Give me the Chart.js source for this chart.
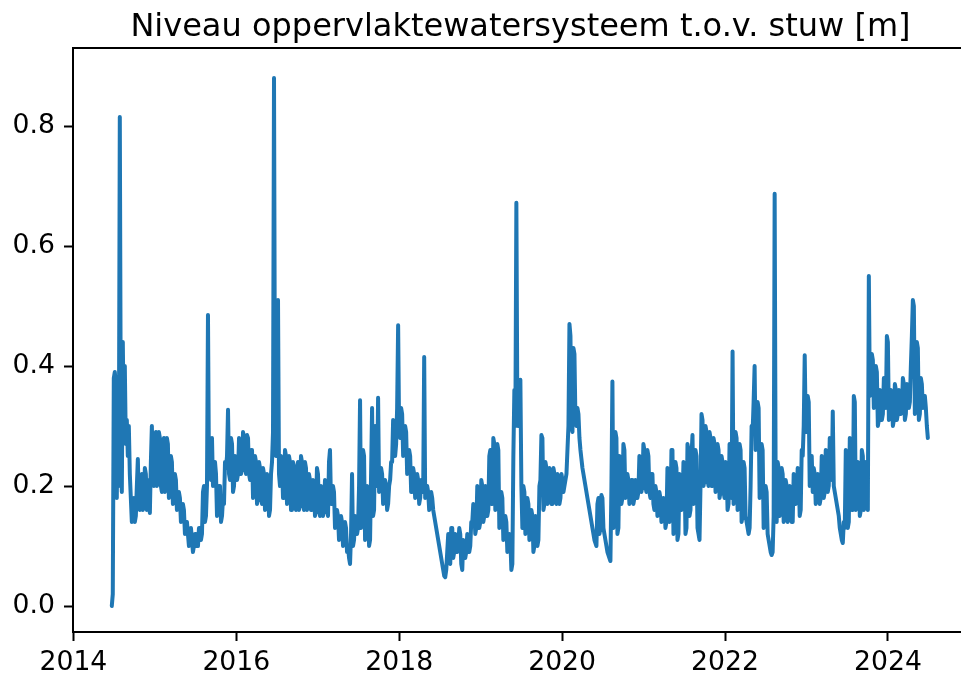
<!DOCTYPE html>
<html>
<head>
<meta charset="utf-8">
<script src="https://cdn.jsdelivr.net/npm/chart.js@4.4.1/dist/chart.umd.min.js"></script>
<style>
  html, body { margin: 0; padding: 0; background: #ffffff; overflow: hidden; width: 961px; height: 679px; }
  #wrap { position: relative; width: 1000px; height: 679px; }
  canvas { display: block; }
</style>
</head>
<body>
<div id="wrap"><canvas id="chart" width="1000" height="679"></canvas></div>
<script>
// ---------------- data ----------------
const titleText = 'Niveau oppervlaktewatersysteem t.o.v. stuw [m]';
const seriesLabel = 'Niveau t.o.v. stuw';
const startDate = '2014-06-22';   // first sample
const intervalDays = 4.49;        // sampling interval of the series below
const levels = [
  0.00, 0.02, 0.38, 0.39, 0.37, 0.18, 0.35, 0.20, 0.815, 0.30, 0.19, 0.44, 0.29, 0.40, 0.27, 0.31, 0.25, 0.30, 0.22, 0.18,
  0.14, 0.15, 0.18, 0.14, 0.15, 0.20, 0.245, 0.17, 0.16, 0.21, 0.22, 0.16, 0.17, 0.23, 0.22, 0.16, 0.17, 0.21, 0.155, 0.24,
  0.30, 0.21, 0.20, 0.28, 0.29, 0.20, 0.21, 0.29, 0.28, 0.20, 0.19, 0.27, 0.28, 0.19, 0.20, 0.28, 0.27, 0.18, 0.19, 0.25,
  0.24, 0.17, 0.18, 0.22, 0.21, 0.16, 0.17, 0.19, 0.18, 0.14, 0.15, 0.17, 0.16, 0.12, 0.13, 0.14, 0.12, 0.10, 0.11, 0.13,
  0.11, 0.09, 0.10, 0.12, 0.12, 0.10, 0.10, 0.13, 0.13, 0.11, 0.12, 0.19, 0.20, 0.14, 0.15, 0.20, 0.485, 0.22, 0.27, 0.21,
  0.28, 0.20, 0.21, 0.24, 0.22, 0.15, 0.16, 0.20, 0.20, 0.14, 0.15, 0.18, 0.17, 0.24, 0.23, 0.25, 0.327, 0.22, 0.21, 0.28,
  0.27, 0.19, 0.20, 0.25, 0.24, 0.21, 0.22, 0.28, 0.27, 0.22, 0.23, 0.29, 0.28, 0.23, 0.22, 0.285, 0.28, 0.22, 0.21, 0.26,
  0.26, 0.18, 0.19, 0.25, 0.24, 0.17, 0.18, 0.24, 0.23, 0.18, 0.17, 0.23, 0.22, 0.16, 0.17, 0.22, 0.21, 0.15, 0.16, 0.22,
  0.24, 0.29, 0.88, 0.30, 0.25, 0.32, 0.51, 0.22, 0.20, 0.25, 0.24, 0.18, 0.19, 0.26, 0.25, 0.17, 0.18, 0.25, 0.24, 0.16,
  0.16, 0.24, 0.23, 0.17, 0.16, 0.23, 0.24, 0.16, 0.17, 0.25, 0.24, 0.17, 0.16, 0.24, 0.23, 0.16, 0.17, 0.22, 0.21, 0.16,
  0.16, 0.21, 0.20, 0.15, 0.16, 0.23, 0.22, 0.16, 0.15, 0.20, 0.19, 0.15, 0.16, 0.21, 0.20, 0.16, 0.15, 0.24, 0.26, 0.17,
  0.17, 0.20, 0.19, 0.13, 0.14, 0.16, 0.15, 0.11, 0.12, 0.15, 0.14, 0.10, 0.11, 0.14, 0.13, 0.09, 0.10, 0.08, 0.07, 0.12,
  0.22, 0.10, 0.11, 0.15, 0.14, 0.12, 0.13, 0.20, 0.343, 0.13, 0.14, 0.26, 0.25, 0.11, 0.12, 0.20, 0.19, 0.10, 0.11, 0.22,
  0.33, 0.15, 0.16, 0.30, 0.29, 0.20, 0.347, 0.19, 0.20, 0.23, 0.22, 0.17, 0.18, 0.21, 0.20, 0.16, 0.17, 0.20, 0.21, 0.24,
  0.24, 0.31, 0.30, 0.25, 0.27, 0.33, 0.468, 0.29, 0.28, 0.33, 0.32, 0.25, 0.26, 0.30, 0.29, 0.22, 0.23, 0.26, 0.25, 0.19,
  0.19, 0.23, 0.22, 0.18, 0.19, 0.22, 0.21, 0.17, 0.18, 0.21, 0.20, 0.19, 0.415, 0.18, 0.19, 0.20, 0.19, 0.16, 0.17, 0.19,
  0.18, 0.16, 0.15, 0.14, 0.13, 0.12, 0.11, 0.10, 0.09, 0.08, 0.07, 0.06, 0.05, 0.048, 0.06, 0.09, 0.12, 0.08, 0.07, 0.13,
  0.13, 0.08, 0.09, 0.12, 0.11, 0.09, 0.10, 0.13, 0.12, 0.07, 0.06, 0.11, 0.10, 0.08, 0.09, 0.12, 0.11, 0.09, 0.10, 0.14,
  0.14, 0.17, 0.16, 0.12, 0.13, 0.20, 0.19, 0.13, 0.14, 0.21, 0.20, 0.14, 0.15, 0.20, 0.19, 0.15, 0.16, 0.25, 0.26, 0.17,
  0.17, 0.28, 0.27, 0.16, 0.17, 0.27, 0.26, 0.13, 0.14, 0.19, 0.18, 0.11, 0.12, 0.15, 0.14, 0.09, 0.10, 0.12, 0.11, 0.06,
  0.07, 0.25, 0.36, 0.30, 0.672, 0.32, 0.30, 0.35, 0.377, 0.20, 0.13, 0.20, 0.19, 0.12, 0.13, 0.18, 0.17, 0.11, 0.12, 0.16,
  0.15, 0.09, 0.10, 0.15, 0.14, 0.10, 0.11, 0.20, 0.21, 0.285, 0.28, 0.16, 0.17, 0.24, 0.23, 0.17, 0.18, 0.23, 0.22, 0.17,
  0.17, 0.23, 0.22, 0.18, 0.17, 0.22, 0.21, 0.17, 0.18, 0.22, 0.21, 0.19, 0.20, 0.21, 0.22, 0.26, 0.30, 0.47, 0.45, 0.30,
  0.29, 0.43, 0.42, 0.31, 0.30, 0.33, 0.32, 0.28, 0.26, 0.245, 0.23, 0.22, 0.21, 0.20, 0.19, 0.18, 0.17, 0.16, 0.15, 0.14,
  0.13, 0.12, 0.11, 0.105, 0.10, 0.17, 0.18, 0.12, 0.13, 0.185, 0.18, 0.13, 0.12, 0.11, 0.10, 0.09, 0.085, 0.08, 0.075, 0.20,
  0.374, 0.13, 0.14, 0.29, 0.28, 0.12, 0.13, 0.25, 0.24, 0.17, 0.18, 0.27, 0.26, 0.18, 0.19, 0.22, 0.21, 0.17, 0.18, 0.21,
  0.21, 0.17, 0.18, 0.21, 0.20, 0.18, 0.19, 0.25, 0.24, 0.19, 0.20, 0.27, 0.26, 0.20, 0.19, 0.26, 0.25, 0.19, 0.18, 0.22,
  0.22, 0.17, 0.16, 0.20, 0.19, 0.15, 0.16, 0.19, 0.18, 0.14, 0.15, 0.18, 0.17, 0.13, 0.14, 0.23, 0.22, 0.14, 0.15, 0.26,
  0.26, 0.12, 0.13, 0.24, 0.23, 0.11, 0.12, 0.22, 0.21, 0.16, 0.17, 0.24, 0.23, 0.12, 0.13, 0.27, 0.26, 0.15, 0.16, 0.25,
  0.285, 0.17, 0.18, 0.26, 0.25, 0.13, 0.12, 0.11, 0.20, 0.32, 0.31, 0.20, 0.21, 0.30, 0.29, 0.21, 0.20, 0.29, 0.28, 0.20,
  0.20, 0.28, 0.27, 0.19, 0.20, 0.27, 0.26, 0.18, 0.19, 0.25, 0.24, 0.19, 0.18, 0.24, 0.23, 0.16, 0.17, 0.27, 0.26, 0.18,
  0.424, 0.17, 0.18, 0.29, 0.28, 0.16, 0.17, 0.27, 0.26, 0.14, 0.15, 0.24, 0.23, 0.15, 0.14, 0.13, 0.12, 0.13, 0.20, 0.30,
  0.29, 0.34, 0.40, 0.26, 0.27, 0.34, 0.33, 0.18, 0.19, 0.27, 0.26, 0.13, 0.14, 0.20, 0.19, 0.12, 0.11, 0.10, 0.09, 0.085,
  0.09, 0.15, 0.687, 0.20, 0.14, 0.24, 0.23, 0.15, 0.16, 0.23, 0.22, 0.14, 0.15, 0.21, 0.20, 0.14, 0.15, 0.20, 0.19, 0.14,
  0.14, 0.22, 0.21, 0.17, 0.18, 0.23, 0.22, 0.15, 0.16, 0.26, 0.25, 0.30, 0.418, 0.30, 0.29, 0.35, 0.34, 0.20, 0.21, 0.25,
  0.19, 0.23, 0.22, 0.17, 0.18, 0.22, 0.21, 0.17, 0.18, 0.25, 0.24, 0.18, 0.19, 0.26, 0.25, 0.19, 0.20, 0.28, 0.27, 0.21,
  0.324, 0.20, 0.19, 0.18, 0.17, 0.16, 0.15, 0.13, 0.12, 0.11, 0.105, 0.14, 0.13, 0.26, 0.25, 0.13, 0.14, 0.28, 0.27, 0.16,
  0.16, 0.35, 0.34, 0.16, 0.17, 0.24, 0.23, 0.15, 0.16, 0.26, 0.25, 0.16, 0.17, 0.24, 0.23, 0.16, 0.55, 0.35, 0.36, 0.42,
  0.41, 0.33, 0.34, 0.40, 0.39, 0.30, 0.31, 0.36, 0.35, 0.31, 0.32, 0.38, 0.37, 0.33, 0.45, 0.44, 0.31, 0.32, 0.36, 0.35,
  0.30, 0.31, 0.37, 0.36, 0.31, 0.32, 0.36, 0.35, 0.32, 0.33, 0.38, 0.37, 0.31, 0.32, 0.37, 0.36, 0.33, 0.34, 0.40, 0.45,
  0.51, 0.50, 0.32, 0.33, 0.44, 0.43, 0.31, 0.32, 0.38, 0.37, 0.33, 0.34, 0.35, 0.33, 0.30, 0.28
];
const xTickYears = [2014, 2016, 2018, 2020, 2022, 2024];
const yTickValues = [0.0, 0.2, 0.4, 0.6, 0.8];
const xRange = [2013.995, 2024.983];
const yRange = [-0.0433, 0.93];

// ---------------- helpers ----------------
function toDecimalYear(d) {
  const y = d.getUTCFullYear();
  const s = Date.UTC(y, 0, 1), e = Date.UTC(y + 1, 0, 1);
  return y + (d.getTime() - s) / (e - s);
}
const t0 = Date.parse(startDate + 'T00:00:00Z');
const points = levels.map((v, i) => ({ x: toDecimalYear(new Date(t0 + i * intervalDays * 86400000)), y: v }));

const FONT = 'DejaVu Sans';
const INK = '#000000';

const mplFrame = {
  id: 'mplFrame',
  afterDraw(chart) {
    const { ctx, chartArea: a } = chart;
    ctx.save();
    ctx.strokeStyle = INK;
    ctx.lineWidth = 2;
    ctx.strokeRect(a.left, a.top, a.right - a.left, a.bottom - a.top);
    ctx.font = '32px "' + FONT + '"';
    ctx.fillStyle = INK;
    ctx.textAlign = 'center';
    ctx.textBaseline = 'alphabetic';
    ctx.fillText(titleText, (a.left + a.right) / 2, 36);
    ctx.restore();
  }
};

const bg = {
  id: 'bg',
  beforeDraw(chart) {
    const { ctx } = chart;
    ctx.save();
    ctx.fillStyle = '#ffffff';
    ctx.fillRect(0, 0, chart.width, chart.height);
    ctx.restore();
  }
};

new Chart(document.getElementById('chart'), {
  type: 'line',
  data: {
    datasets: [{
      label: seriesLabel,
      data: points,
      borderColor: '#1f77b4',
      borderWidth: 4,
      borderJoinStyle: 'round',
      borderCapStyle: 'round',
      pointRadius: 0,
      tension: 0,
      fill: false
    }]
  },
  options: {
    responsive: false,
    animation: false,
    parsing: false,
    normalized: true,
    layout: { padding: { top: 48, right: 32, left: 0, bottom: 0 } },
    plugins: { legend: { display: false }, title: { display: false }, tooltip: { enabled: false } },
    scales: {
      x: {
        type: 'linear',
        min: xRange[0],
        max: xRange[1],
        afterBuildTicks: (s) => { s.ticks = xTickYears.map(v => ({ value: v })); },
        afterFit: (s) => { s.height = 47; },
        border: { display: false },
        grid: { display: true, drawOnChartArea: false, drawTicks: true, tickLength: 9, tickWidth: 2, tickColor: INK },
        ticks: {
          autoSkip: false, maxRotation: 0, padding: 6,
          color: INK, font: { family: FONT, size: 26.67 },
          callback: (v) => String(v)
        }
      },
      y: {
        type: 'linear',
        min: yRange[0],
        max: yRange[1],
        afterBuildTicks: (s) => { s.ticks = yTickValues.map(v => ({ value: v })); },
        afterFit: (s) => { s.width = 73; },
        border: { display: false },
        grid: { display: true, drawOnChartArea: false, drawTicks: true, tickLength: 9, tickWidth: 2, tickColor: INK },
        ticks: {
          autoSkip: false, padding: 9,
          color: INK, font: { family: FONT, size: 26.67 },
          callback: (v) => Number(v).toFixed(1)
        }
      }
    }
  },
  plugins: [bg, mplFrame]
});
</script>
</body>
</html>
